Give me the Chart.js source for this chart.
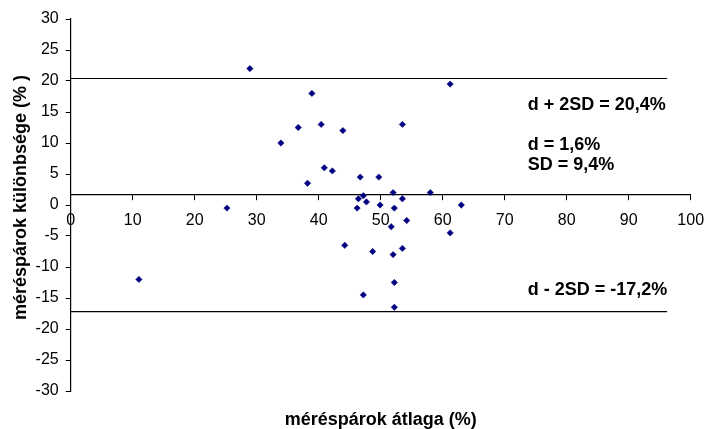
<!DOCTYPE html>
<html>
<head>
<meta charset="utf-8">
<script src="https://cdn.jsdelivr.net/npm/chart.js@4"></script>
<style>
  html, body { margin: 0; padding: 0; background: #fff; }
  #wrap { width: 707px; height: 429px; }
</style>
</head>
<body>
<div id="wrap"><canvas id="c" width="707" height="429"></canvas></div>
<script>
// ---- data ----
const meanValues = [11.0, 25.2, 28.9, 33.9, 36.7, 38.2, 38.9, 40.4, 40.9, 42.2, 43.9, 44.2, 46.2, 46.4, 46.7, 47.2, 47.2, 47.7, 48.7, 49.7, 49.9, 51.7, 52.0, 52.0, 52.2, 52.2, 52.2, 53.5, 53.5, 53.5, 54.2, 58.0, 61.2, 61.2, 63.0];
const diffValues = [-12.0, -0.5, 22.0, 10.0, 12.5, 3.5, 18.0, 13.0, 6.0, 5.5, 12.0, -6.5, -0.5, 1.0, 4.5, 1.5, -14.5, 0.5, -7.5, 4.5, 0.0, -3.5, 2.0, -8.0, -0.5, -12.5, -16.5, 13.0, 1.0, -7.0, -2.5, 2.0, 19.5, -4.5, 0.0];
const meanDiff = 1.6;
const upperLimit = 20.4;
const lowerLimit = -17.2;
const limitLineEnd = 96.2;
const xTicks = [0, 10, 20, 30, 40, 50, 60, 70, 80, 90, 100];
const yTicks = [-30, -25, -20, -15, -10, -5, 0, 5, 10, 15, 20, 25, 30];
const xTitle = 'méréspárok átlaga (%)';
const yTitle = '\u00a0\u00a0\u00a0méréspárok különbsége (% )';
const annotationTexts = ['d + 2SD = 20,4%', 'd = 1,6%', 'SD = 9,4%', 'd - 2SD = -17,2%'];

const FONT = '"Liberation Sans", Arial, Helvetica, sans-serif';

const points = meanValues.map((m, i) => ({ x: m, y: diffValues[i] }));

const annotationPlugin = {
  id: 'annotations',
  afterDatasetsDraw(chart) {
    const { ctx, chartArea } = chart;
    const ys = chart.scales.y;
    const left = chartArea.left + 457;
    const rows = [
      { t: annotationTexts[0], y: ys.getPixelForValue(upperLimit) + 31 },
      { t: annotationTexts[1], y: ys.getPixelForValue(meanDiff) - 45 },
      { t: annotationTexts[2], y: ys.getPixelForValue(meanDiff) - 25 },
      { t: annotationTexts[3], y: ys.getPixelForValue(lowerLimit) - 17 }
    ];
    ctx.save();
    ctx.fillStyle = '#000';
    ctx.font = 'bold 18px ' + FONT;
    ctx.textAlign = 'left';
    ctx.textBaseline = 'alphabetic';
    rows.forEach(r => ctx.fillText(r.t, left, r.y));
    ctx.restore();
  }
};

new Chart(document.getElementById('c'), {
  type: 'scatter',
  data: {
    datasets: [
      {
        data: points,
        pointStyle: 'rectRot',
        pointRadius: 3.2,
        pointHoverRadius: 3.2,
        backgroundColor: '#000080',
        borderColor: '#000080',
        borderWidth: 0.5,
        showLine: false,
        order: 1
      },
      {
        data: [{ x: 0, y: upperLimit }, { x: limitLineEnd, y: upperLimit }],
        showLine: true,
        borderColor: '#000',
        borderWidth: 1.2,
        pointRadius: 0,
        order: 2
      },
      {
        data: [{ x: 0, y: lowerLimit }, { x: limitLineEnd, y: lowerLimit }],
        showLine: true,
        borderColor: '#000',
        borderWidth: 1.2,
        pointRadius: 0,
        order: 2
      }
    ]
  },
  options: {
    responsive: false,
    animation: false,
    devicePixelRatio: 1,
    layout: { padding: { top: 19, right: 16.3, left: 0, bottom: 0 } },
    plugins: {
      legend: { display: false },
      tooltip: { enabled: false }
    },
    scales: {
      x: {
        type: 'linear',
        position: { y: meanDiff },
        min: 0,
        max: 100,
        afterBuildTicks: s => { s.ticks = xTicks.map(v => ({ value: v })); },
        ticks: { color: '#000', font: { family: FONT, size: 16 }, padding: 11, maxRotation: 0 },
        grid: { drawOnChartArea: false, drawTicks: true, tickLength: 5, color: '#000', lineWidth: 1 },
        border: { display: true, color: '#000', width: 1.2 },
        afterFit: s => { s.height = 0; s.paddingLeft = 0; s.paddingRight = 0; }
      },
      xt: {
        type: 'linear',
        position: 'bottom',
        axis: 'x',
        min: 0,
        max: 100,
        ticks: { display: false },
        grid: { display: false, drawTicks: false },
        border: { display: false },
        title: { display: true, text: xTitle, color: '#000', font: { family: FONT, size: 18, weight: 'bold', lineHeight: 1 }, padding: { top: 0, bottom: 0 } },
        afterFit: s => { s.height = 38; s.paddingLeft = 0; s.paddingRight = 0; }
      },
      y: {
        type: 'linear',
        position: 'left',
        min: -30,
        max: 30,
        afterBuildTicks: s => { s.ticks = yTicks.map(v => ({ value: v })); },
        ticks: { color: '#000', font: { family: FONT, size: 16 }, padding: 7 },
        grid: { drawOnChartArea: false, drawTicks: true, tickLength: 5, color: '#000', lineWidth: 1 },
        border: { display: true, color: '#000', width: 1.2 },
        title: { display: true, text: yTitle, color: '#000', font: { family: FONT, size: 18, weight: 'bold', lineHeight: 1.2 }, padding: { top: 10, bottom: 0 } },
        afterFit: s => { s.width = 70.7; }
      }
    }
  },
  plugins: [annotationPlugin]
});
</script>
</body>
</html>
